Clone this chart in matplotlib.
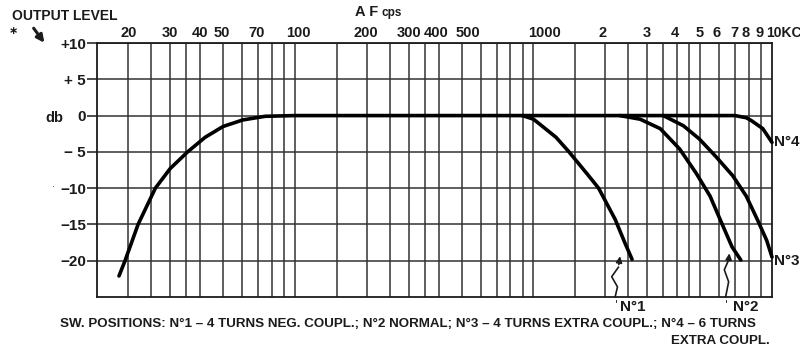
import matplotlib
matplotlib.use("Agg")
import matplotlib.pyplot as plt
from matplotlib.transforms import offset_copy

FONT = ["Liberation Sans", "DejaVu Sans"]
INK = "#1b1b1b"

# response common to all switch positions (low end + flat part)
low_f = [18.3, 19.4, 22, 26, 30, 35.5, 42, 50, 60.5, 75, 100, 200, 500, 900]
low_db = [-22.1, -20, -15, -10, -7.3, -5, -3.0, -1.5, -0.6, -0.1, 0, 0, 0, 0]

# high-frequency roll-off for each switch position
n1_f = [900, 1000, 1064, 1244, 1409, 1704, 1875, 2200, 2421, 2590]
n1_db = [0, -0.5, -1.2, -3.0, -5.0, -8.3, -10.0, -14.3, -17.6, -19.8]
n2_f = [900, 2300, 2800, 3400, 4100, 4800, 5500, 6150, 6800, 7400]
n2_db = [0, 0, -0.5, -1.8, -4.6, -7.9, -11.1, -14.8, -18.1, -19.9]
n3_f = [2300, 3500, 4250, 4950, 5800, 6850, 7800, 8700, 9500, 10000]
n3_db = [0, 0, -1.4, -3.2, -5.6, -8.3, -11.1, -14.4, -17.2, -19.5]
n4_f = [3500, 7000, 7800, 8200, 9150, 10000]
n4_db = [0, 0, -0.3, -0.7, -1.8, -3.7]

grid_f = [20, 25, 30, 35, 40, 50, 60, 70, 80, 90, 100, 150, 200, 250, 300, 350,
          400, 500, 600, 700, 800, 900, 1000, 1500, 2000, 2500, 3000, 3500, 4000,
          4500, 5000, 6000, 7000, 8000, 9000]
label_f = [20, 30, 40, 50, 70, 100, 200, 300, 400, 500, 1000,
           2000, 3000, 4000, 5000, 6000, 7000, 8000, 9000, 10000]
label_txt = ["20", "30", "40", "50", "70", "100", "200", "300", "400", "500", "1000",
             "2", "3", "4", "5", "6", "7", "8", "9", "10KC"]
# hand-lettered labels sit a little off their grid lines (pixels)
label_nudge = [0, 0, 0, -1, -1, 3, -1, 0, -2, 6, 11,
               -3, -1, -2, -1, -3, -1, -3, -2, 0]
db_ticks = [10, 5, 0, -5, -10, -15, -20]
db_txt = ["+10", "+ 5", "0", "\u2212 5", "\u221210", "\u221215", "\u221220"]

fig = plt.figure(figsize=(8, 3.52), dpi=100)
fig.patch.set_facecolor("white")
ax = fig.add_axes([0.12125, 0.15625, 0.84375, 0.72159])
ax.set_xscale("log")
ax.set_xlim(14.8, 10000)
ax.set_ylim(-25, 10)

for f in grid_f:
    ax.axvline(f, color="#333333", lw=1.1, zorder=1)
for d in db_ticks:
    ax.axhline(d, color="#333333", lw=1.1, zorder=1)
for s in ax.spines.values():
    s.set_color(INK)
    s.set_linewidth(1.3)

ax.set_xticks([])
ax.xaxis.set_minor_locator(matplotlib.ticker.NullLocator())
ax.set_yticks(db_ticks)
ax.set_yticklabels(db_txt)
ax.tick_params(axis="y", length=7, width=1.1, color=INK, pad=1)
for lab in ax.get_yticklabels():
    lab.set_family(FONT)
    lab.set_fontsize(11)
    lab.set_fontweight("bold")
    lab.set_color(INK)

lbl = dict(family=FONT, fontsize=11, fontweight="bold", color=INK)
xtop = ax.get_xaxis_transform()
for f, t, dx in zip(label_f, label_txt, label_nudge):
    ha = "left" if t.endswith("KC") else "center"
    tr = offset_copy(xtop, fig=fig, x=dx - (6 if ha == "left" else 0), y=3,
                     units="dots")
    ax.text(f, 1.0, t, transform=tr, ha=ha, va="bottom", clip_on=False,
            family=FONT, fontsize=10.5 if ha == "center" else 10, fontweight="bold",
            color=INK)

curve = dict(color="black", lw=2.6, solid_capstyle="round", solid_joinstyle="round",
             zorder=3)
ax.plot(low_f, low_db, **curve)
for fx, dx in [(n1_f, n1_db), (n2_f, n2_db), (n3_f, n3_db), (n4_f, n4_db)]:
    ax.plot(fx, dx, clip_on=False, **curve)

ax.text(10150, -3.6, "N\u00b04", ha="left", va="center", clip_on=False, **lbl)
ax.text(10150, -20.0, "N\u00b03", ha="left", va="center", clip_on=False, **lbl)
ax.text(2620, -25.4, "N\u00b01", ha="center", va="top", clip_on=False, **lbl)
ax.text(7750, -25.4, "N\u00b02", ha="center", va="top", clip_on=False, **lbl)
ax.text(2230, -25.3, "'", ha="center", va="top", clip_on=False, fontsize=8, color=INK)
ax.text(6420, -25.3, "'", ha="center", va="top", clip_on=False, fontsize=8, color=INK)

# wavy pointer arrows from the N°1 / N°2 labels up to the curve ends
ax.plot([2200, 2250, 2128, 2270], [-25, -23.6, -22.2, -20.9], color=INK, lw=1.2,
        zorder=4, clip_on=False)
ax.annotate("", xy=(2316, -19.0), xytext=(2270, -20.9),
            arrowprops=dict(arrowstyle="-|>", color=INK, lw=1.2, mutation_scale=9))
ax.plot([6390, 6580, 6310, 6580], [-25, -22.9, -21.25, -19.9], color=INK, lw=1.2,
        zorder=4, clip_on=False)
ax.annotate("", xy=(6650, -18.6), xytext=(6580, -19.9),
            arrowprops=dict(arrowstyle="-|>", color=INK, lw=1.2, mutation_scale=9))

# headings and notes around the grid
fig.text(12 / 800, 1 - 16 / 352, "OUTPUT LEVEL", ha="left", va="center",
         family=FONT, fontsize=10, fontweight="bold", color=INK)
fig.text(355 / 800, 1 - 12 / 352, "A F", ha="left", va="center",
         family=FONT, fontsize=10.5, fontweight="bold", color=INK)
fig.text(381 / 800, 1 - 13 / 352, "cps", ha="left", va="center",
         family=FONT, fontsize=8.5, fontweight="bold", color=INK)
fig.text(45 / 800, 1 - 118 / 352, "db", ha="left", va="center",
         family=FONT, fontsize=10.5, fontweight="bold", color=INK)
fig.text(9 / 800, 1 - 31 / 352, "\u2217", ha="left", va="center",
         fontsize=8, fontweight="bold", color=INK)
fig.text(52 / 800, 1 - 187 / 352, "\u00b7", ha="left", va="center",
         fontsize=7, color="#555555")
fig.add_artist(matplotlib.patches.FancyArrowPatch(
    (32 / 800, 1 - 26 / 352), (46 / 800, 1 - 45 / 352), transform=fig.transFigure,
    arrowstyle="-|>", mutation_scale=11, lw=2.2, color=INK))

note = dict(family=FONT, fontsize=9.6, fontweight="bold", color=INK)
fig.text(60 / 800, 1 - 324 / 352,
         "SW. POSITIONS: N\u00b01 \u2013 4 TURNS NEG. COUPL.; N\u00b02 NORMAL; "
         "N\u00b03 \u2013 4 TURNS EXTRA COUPL.; N\u00b04 \u2013 6 TURNS",
         ha="left", va="center", **note)
fig.text(770 / 800, 1 - 341 / 352, "EXTRA COUPL.", ha="right", va="center", **note)

fig.savefig("out.png", dpi=100)
